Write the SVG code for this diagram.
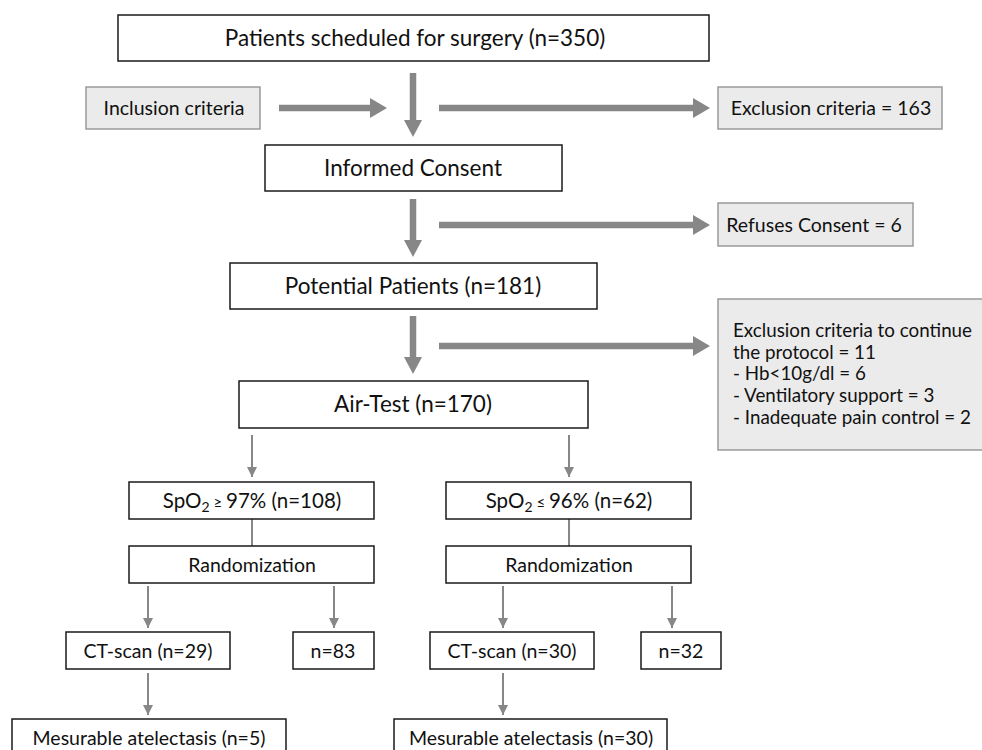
<svg xmlns="http://www.w3.org/2000/svg" width="982" height="750" viewBox="0 0 982 750">
<defs>
<style>
.box{fill:#ffffff;stroke:#1a1a1a;stroke-width:1.5}
.gbox{fill:#ebebeb;stroke:#9a9a9a;stroke-width:1.5}
text{font-family:Lato,"Open Sans","Liberation Sans",sans-serif;fill:#111;text-anchor:middle}
.t22{font-size:22.5px}
.t19{font-size:19.5px}
.t18{font-size:18.8px}
.left{text-anchor:start}
.thick{stroke:#878787;stroke-width:6.5;fill:none}
.thin{stroke:#878787;stroke-width:2;fill:none}
.head{fill:#878787}
</style>
<marker id="th" markerUnits="userSpaceOnUse" markerWidth="10" markerHeight="10" refX="10" refY="5" orient="auto">
<path d="M0,0 L10,5 L0,10 Z" fill="#878787"/>
</marker>
</defs>

<g id="connectors">
<line class="thick" x1="413" y1="73" x2="413" y2="121"/>
<polygon class="head" points="404,120 422,120 413,137"/>
<line class="thick" x1="413" y1="199" x2="413" y2="241"/>
<polygon class="head" points="404,240 422,240 413,257"/>
<line class="thick" x1="413" y1="316" x2="413" y2="358"/>
<polygon class="head" points="404,357 422,357 413,374"/>
<line class="thick" x1="279" y1="108" x2="371" y2="108"/>
<polygon class="head" points="370,98 370,118 387,108"/>
<line class="thick" x1="439" y1="108" x2="694" y2="108"/>
<polygon class="head" points="693,98 693,118 710,108"/>
<line class="thick" x1="439" y1="225" x2="694" y2="225"/>
<polygon class="head" points="693,215 693,235 710,225"/>
<line class="thick" x1="439" y1="346" x2="694" y2="346"/>
<polygon class="head" points="693,336 693,356 710,346"/>
<line class="thin" x1="252" y1="435" x2="252" y2="477" marker-end="url(#th)"/>
<line class="thin" x1="569" y1="435" x2="569" y2="477" marker-end="url(#th)"/>
<line class="thin" x1="252" y1="519" x2="252" y2="546"/>
<line class="thin" x1="569" y1="519" x2="569" y2="546"/>
<line class="thin" x1="148" y1="586" x2="148" y2="628" marker-end="url(#th)"/>
<line class="thin" x1="334" y1="586" x2="334" y2="628" marker-end="url(#th)"/>
<line class="thin" x1="503" y1="586" x2="503" y2="628" marker-end="url(#th)"/>
<line class="thin" x1="672" y1="586" x2="672" y2="628" marker-end="url(#th)"/>
<line class="thin" x1="148" y1="673" x2="148" y2="715" marker-end="url(#th)"/>
<line class="thin" x1="503" y1="673" x2="503" y2="715" marker-end="url(#th)"/>
</g>

<g id="n-surgery"><rect class="box" x="118" y="15" width="591" height="46"/><text class="t22" x="415" y="46">Patients scheduled for surgery (n=350)</text></g>
<g id="n-inclusion"><rect class="gbox" x="86" y="87" width="174" height="42"/><text class="t19" x="174" y="115">Inclusion criteria</text></g>
<g id="n-exclusion"><rect class="gbox" x="718" y="87" width="224" height="42"/><text class="t19" x="831" y="115">Exclusion criteria = 163</text></g>
<g id="n-consent"><rect class="box" x="265" y="145" width="297" height="46"/><text class="t22" x="413" y="176">Informed Consent</text></g>
<g id="n-refuses"><rect class="gbox" x="718" y="203" width="195" height="43"/><text class="t19" x="814" y="232">Refuses Consent = 6</text></g>
<g id="n-potential"><rect class="box" x="230" y="263" width="367" height="46"/><text class="t22" x="413" y="294">Potential Patients (n=181)</text></g>
<g id="n-exclusion2"><rect class="gbox" x="718" y="299" width="270" height="151"/>
<text class="t18 left" x="733" y="337">Exclusion criteria to continue</text>
<text class="t18 left" x="733" y="359">the protocol = 11</text>
<text class="t18 left" x="733" y="380">- Hb&lt;10g/dl = 6</text>
<text class="t18 left" x="733" y="402">- Ventilatory support = 3</text>
<text class="t18 left" x="733" y="424">- Inadequate pain control = 2</text>
</g>
<g id="n-airtest"><rect class="box" x="239" y="381" width="349" height="47"/><text class="t22" x="413" y="412">Air-Test (n=170)</text></g>
<g id="n-spo2-high"><rect class="box" x="129" y="482" width="245" height="37"/><text x="252" y="507.5" font-size="20.5">SpO<tspan font-size="14" dy="4">2</tspan><tspan dy="-4" font-size="15"> ≥ </tspan>97% (n=108)</text></g>
<g id="n-spo2-low"><rect class="box" x="446" y="482" width="245" height="37"/><text x="569" y="507.5" font-size="20.5">SpO<tspan font-size="14" dy="4">2</tspan><tspan dy="-4" font-size="15"> ≤ </tspan>96% (n=62)</text></g>
<g id="n-rand-1"><rect class="box" x="129" y="546" width="245" height="37"/><text class="t19" x="252" y="571.5">Randomization</text></g>
<g id="n-rand-2"><rect class="box" x="446" y="546" width="245" height="37"/><text class="t19" x="569" y="571.5">Randomization</text></g>
<g id="n-ct29"><rect class="box" x="66" y="632" width="164" height="37"/><text class="t19" x="148" y="657.5">CT-scan (n=29)</text></g>
<g id="n-83"><rect class="box" x="293" y="632" width="81" height="37"/><text class="t19" x="333" y="657.5">n=83</text></g>
<g id="n-ct30"><rect class="box" x="430" y="632" width="164" height="37"/><text class="t19" x="512" y="657.5">CT-scan (n=30)</text></g>
<g id="n-32"><rect class="box" x="641" y="632" width="80" height="37"/><text class="t19" x="681" y="657.5">n=32</text></g>
<g id="n-atel5"><rect class="box" x="12" y="719" width="274" height="40"/><text class="t19" x="149" y="745">Mesurable atelectasis (n=5)</text></g>
<g id="n-atel30"><rect class="box" x="394" y="719" width="273" height="40"/><text class="t19" x="531" y="745">Mesurable atelectasis (n=30)</text></g>
</svg>
